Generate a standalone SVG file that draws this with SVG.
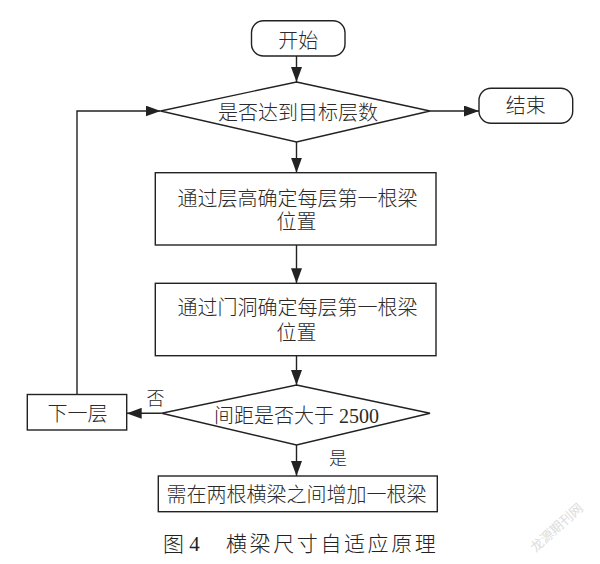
<svg xmlns="http://www.w3.org/2000/svg" width="600" height="564" viewBox="0 0 600 564">
  <style>
    .shape { fill: #ffffff; stroke: #222222; stroke-width: 1.4; }
    .conn { fill: none; stroke: #222222; stroke-width: 1.4; }
    .t { font-family: "Liberation Serif", "Noto Sans CJK SC", serif; font-size: 20px; font-weight: 300; fill: #2a2a2a; text-anchor: middle; }
    .lbl { font-family: "Liberation Serif", "Noto Sans CJK SC", serif; font-size: 18px; font-weight: 300; fill: #2a2a2a; text-anchor: middle; }
    .cap { font-family: "Liberation Serif", "Noto Sans CJK SC", serif; font-size: 21px; font-weight: 300; fill: #222222; }
    .wm { font-family: "Noto Sans CJK SC", sans-serif; font-size: 13px; fill: #dcdcdc; text-anchor: middle; }
  </style>
  <defs>
    <marker id="arrow" markerUnits="userSpaceOnUse" markerWidth="15" markerHeight="11" refX="15" refY="5.5" orient="auto">
      <path d="M0,0 L15,5.5 L0,11 Z" fill="#222222"/>
    </marker>
  </defs>
  <rect width="600" height="564" fill="#ffffff"/>

  <g id="connectors">
    <line class="conn" x1="296.5" y1="56" x2="296.5" y2="82" marker-end="url(#arrow)"/>
    <line class="conn" x1="296.5" y1="142" x2="296.5" y2="172.7" marker-end="url(#arrow)"/>
    <line class="conn" x1="430" y1="111" x2="479" y2="111" marker-end="url(#arrow)"/>
    <line class="conn" x1="296.5" y1="245" x2="296.5" y2="283.3" marker-end="url(#arrow)"/>
    <line class="conn" x1="296.5" y1="355.7" x2="296.5" y2="385" marker-end="url(#arrow)"/>
    <line class="conn" x1="161.7" y1="413.3" x2="126.7" y2="413.3" marker-end="url(#arrow)"/>
    <line class="conn" x1="296.5" y1="445" x2="296.5" y2="476" marker-end="url(#arrow)"/>
    <polyline class="conn" points="77,394.5 77,111 160.6,111" marker-end="url(#arrow)"/>
    <text class="lbl" x="155.5" y="404.8">否</text>
    <text class="lbl" x="338" y="464.5">是</text>
  </g>

  <g id="start">
    <rect class="shape" x="251.5" y="20.7" width="93.5" height="35.3" rx="12" ry="12"/>
    <text class="t" x="298.3" y="47.6">开始</text>
  </g>

  <g id="decision-floors">
    <polygon class="shape" points="296.5,82 430,111 296.5,142 160.6,111"/>
    <text class="t" x="298" y="120">是否达到目标层数</text>
  </g>

  <g id="end">
    <rect class="shape" x="479" y="88.3" width="93.7" height="35" rx="12" ry="12"/>
    <text class="t" x="525.8" y="113.4">结束</text>
  </g>

  <g id="step-height">
    <rect class="shape" x="155.3" y="172.7" width="280.7" height="72.3"/>
    <text class="t" x="297.5" y="205.6">通过层高确定每层第一根梁</text>
    <text class="t" x="296.5" y="229.3">位置</text>
  </g>

  <g id="step-door">
    <rect class="shape" x="155.3" y="283.3" width="280.7" height="72.4"/>
    <text class="t" x="297.5" y="315">通过门洞确定每层第一根梁</text>
    <text class="t" x="296.5" y="339.6">位置</text>
  </g>

  <g id="decision-spacing">
    <polygon class="shape" points="296.5,385 430,413.3 296.5,445 161.7,413.3"/>
    <text class="t" x="296.5" y="423.4">间距是否大于 2500</text>
  </g>

  <g id="next-floor">
    <rect class="shape" x="27.3" y="394.5" width="99.4" height="35.5"/>
    <text class="t" x="77.5" y="420.6">下一层</text>
  </g>

  <g id="add-beam">
    <rect class="shape" x="158.3" y="476" width="279" height="35.7"/>
    <text class="t" x="296.5" y="501.6">需在两根横梁之间增加一根梁</text>
  </g>

  <g id="caption">
    <text class="cap" x="163" y="551" xml:space="preserve">图 4</text>
    <text class="cap" x="226" y="551" letter-spacing="2.6">横梁尺寸自适应原理</text>
  </g>

  <text class="wm" x="557" y="532" transform="rotate(-42 557 528)">龙源期刊网</text>
</svg>
